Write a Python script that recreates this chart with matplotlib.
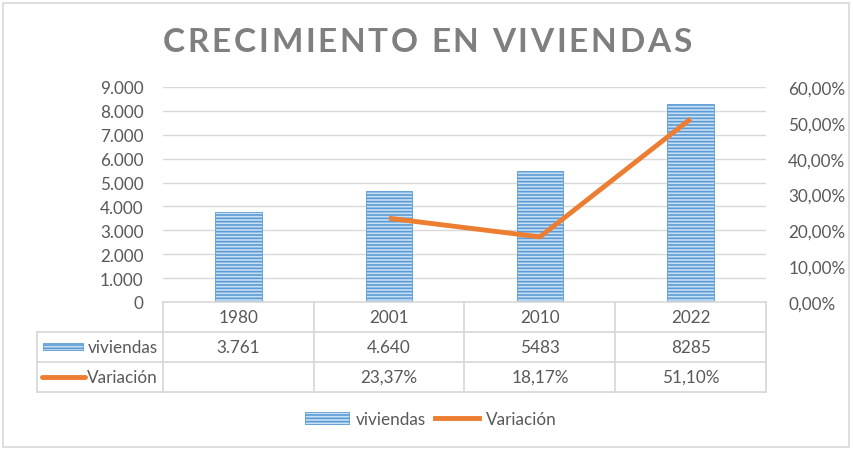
import numpy as np
import matplotlib.pyplot as plt
import matplotlib.transforms as mtransforms
from matplotlib.patches import Rectangle, Patch
from matplotlib.lines import Line2D
from matplotlib.ticker import FuncFormatter, MultipleLocator

# data
years = ['1980', '2001', '2010', '2022']
viviendas = [3761, 4640, 5483, 8285]
variacion = [np.nan, 0.2337, 0.1817, 0.5110]
viv_labels = ['3.761', '4.640', '5483', '8285']
var_labels = ['', '23,37%', '18,17%', '51,10%']
title = 'CRECIMIENTO EN VIVIENDAS'

plt.rcParams['font.family'] = ['Lato', 'DejaVu Sans']
txt = '#595959'
grid = '#D9D9D9'
blue = '#5B9BD5'
orange = '#ED7D31'
fs = 12.3
plt.rcParams['hatch.linewidth'] = 1.2

fig = plt.figure(figsize=(8.54, 4.52), dpi=100)
W, H = 854, 452
ax = fig.add_axes([163 / W, (H - 303) / H, (766 - 163) / W, (303 - 88) / H])

x = np.arange(len(years))
ax.bar(x, viviendas, width=0.31, color='#C9DFF2', edgecolor=blue, hatch='-----',
       linewidth=0.6, zorder=2)
ax.set_xlim(-0.5, 3.5)
ax.set_ylim(0, 9000)
ax.yaxis.set_major_locator(MultipleLocator(1000))
ax.yaxis.set_major_formatter(FuncFormatter(lambda v, p: f'{int(v):,}'.replace(',', '.')))
ax.grid(axis='y', color=grid, lw=1, zorder=0)
ax.set_xticks([])
for s in ['top', 'right', 'left']:
    ax.spines[s].set_visible(False)
ax.spines['bottom'].set_color(grid)
ax.spines['bottom'].set_linewidth(1.2)
ax.tick_params(axis='y', length=0, labelsize=fs, labelcolor=txt, pad=14)

ax2 = ax.twinx()
ax2.plot(x, variacion, color=orange, lw=3.5, solid_capstyle='butt', zorder=3)
ax2.set_ylim(0, 0.6)
ax2.yaxis.set_major_locator(MultipleLocator(0.1))
ax2.yaxis.set_major_formatter(FuncFormatter(lambda v, p: f'{v * 100:.2f}%'.replace('.', ',')))
for s in ax2.spines.values():
    s.set_visible(False)
ax2.tick_params(axis='y', length=0, labelsize=fs, labelcolor=txt, pad=16)

# data table under the axis
bt = mtransforms.blended_transform_factory(ax.transData, ax.transAxes)
rows = [-0.0698, -0.209, -0.349]
lines_y = [0, -0.1395, -0.279, -0.419]
left = (37 - 163) / (766 - 163)
for yy in lines_y[1:]:
    ax.plot([left, 1], [yy, yy], transform=ax.transAxes, color=grid, lw=1.3, clip_on=False)
ax.plot([left, left], [lines_y[1], lines_y[3]], transform=ax.transAxes, color=grid, lw=1.3, clip_on=False)
for b in np.arange(-0.5, 4, 1):
    ax.plot([b, b], [0, lines_y[3]], transform=bt, color=grid, lw=1.3, clip_on=False)
for i in range(len(years)):
    ax.text(x[i], rows[0], years[i], transform=bt, ha='center', va='center', fontsize=fs, color=txt)
    ax.text(x[i], rows[1], viv_labels[i], transform=bt, ha='center', va='center', fontsize=fs, color=txt)
    ax.text(x[i], rows[2], var_labels[i], transform=bt, ha='center', va='center', fontsize=fs, color=txt)

# legend keys inside table
kx0 = (43 - 163) / 603
kx1 = (83 - 163) / 603
ax.add_patch(Rectangle((kx0, rows[1] - 0.012), kx1 - kx0, 0.03, transform=ax.transAxes,
                       facecolor='#C9DFF2', edgecolor=blue, hatch='-----', lw=0.6, clip_on=False))
ax.plot([(42 - 163) / 603, (85 - 163) / 603], [rows[2], rows[2]], transform=ax.transAxes,
        color=orange, lw=3.5, solid_capstyle='round', clip_on=False)
ax.text((158 - 163) / 603, rows[1], 'viviendas', transform=ax.transAxes, ha='right', va='center',
        fontsize=fs, color=txt)
ax.text((158 - 163) / 603, rows[2], 'Variación', transform=ax.transAxes, ha='right', va='center',
        fontsize=fs, color=txt)

# bottom legend
handles = [Patch(facecolor='#C9DFF2', edgecolor=blue, hatch='-----', lw=0.6),
           Line2D([0], [0], color=orange, lw=3.5)]
fig.legend(handles, ['viviendas', 'Variación'], loc='center', bbox_to_anchor=(431 / W, 1 - 420 / H),
           ncol=2, frameon=False, fontsize=fs, labelcolor=txt, handlelength=2.6,
           columnspacing=0.5, handletextpad=0.4)

# title with letter spacing
renderer = fig.canvas.get_renderer()
tsize = 24
track = 2.7
probe = fig.text(0, 0, '', fontsize=tsize, fontweight='bold')
widths = []
for i in range(len(title) + 1):
    probe.set_text(title[:i] if i else ' ')
    widths.append(probe.get_window_extent(renderer).width if i else 0)
probe.remove()
total = widths[-1] + track * (len(title) - 1)
x0 = 427 - total / 2
for i, ch in enumerate(title):
    fig.text((x0 + widths[i] + track * i) / W, 1 - 42 / H, ch, ha='left', va='center',
             fontsize=tsize, fontweight='bold', color='#7F7F7F')

fig.add_artist(Rectangle((3 / W, 4 / H), 846 / W, 444 / H, transform=fig.transFigure,
                         fill=False, edgecolor=grid, lw=1.2))

fig.savefig('out.png', dpi=100)
